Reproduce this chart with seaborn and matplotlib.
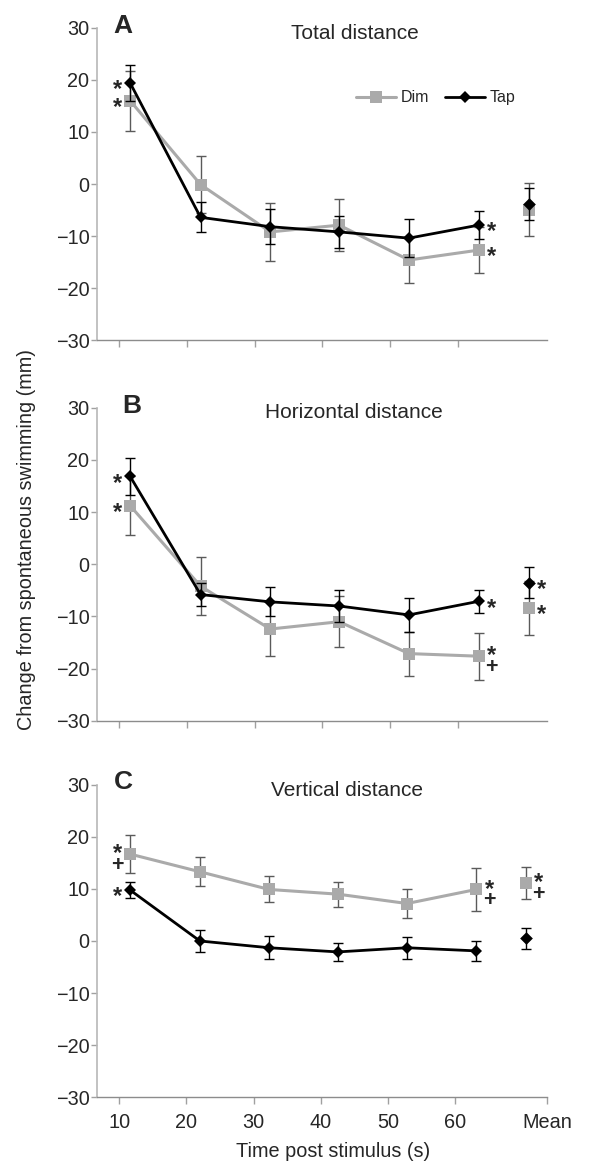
import matplotlib
matplotlib.use("Agg")
import matplotlib.pyplot as plt
import numpy as np
import pandas as pd
import seaborn as sns

# ---------------- data ----------------
time_points = [11.6, 22.0, 32.3, 42.5, 52.8, 63.1]
mean_x = 70.5
x_tick_values = [10, 20, 30, 40, 50, 60]
x_tick_labels = ["10", "20", "30", "40", "50", "60"]
mean_label = "Mean"
y_ticks = [-30, -20, -10, 0, 10, 20, 30]
y_tick_labels = ["\u221230", "\u221220", "\u221210", "0", "10", "20", "30"]
conditions = ["Dim", "Tap"]
panel_letters = ["A", "B", "C"]
panel_titles = ["Total distance", "Horizontal distance", "Vertical distance"]

dim_total = [16.0, -0.1, -9.2, -7.9, -14.6, -12.7]
dim_total_err = [5.8, 5.5, 5.5, 5.0, 4.5, 4.4]
tap_total = [19.4, -6.4, -8.2, -9.2, -10.4, -7.9]
tap_total_err = [3.5, 2.9, 3.4, 3.0, 3.7, 2.7]
dim_total_mean, dim_total_mean_err = -4.9, 5.1
tap_total_mean, tap_total_mean_err = -3.8, 3.1

dim_horiz = [11.2, -4.2, -12.4, -11.0, -17.1, -17.6]
dim_horiz_err = [5.6, 5.6, 5.1, 4.9, 4.2, 4.5]
tap_horiz = [16.8, -5.8, -7.2, -8.0, -9.7, -7.1]
tap_horiz_err = [3.5, 2.2, 2.8, 3.1, 3.2, 2.2]
dim_horiz_mean, dim_horiz_mean_err = -8.4, 5.1
tap_horiz_mean, tap_horiz_mean_err = -3.5, 2.9

dim_vert = [16.7, 13.3, 9.9, 9.0, 7.2, 9.9]
dim_vert_err = [3.7, 2.8, 2.5, 2.4, 2.7, 4.2]
tap_vert = [9.8, 0.0, -1.3, -2.1, -1.3, -1.9]
tap_vert_err = [1.6, 2.1, 2.2, 1.7, 2.1, 1.95]
dim_vert_mean, dim_vert_mean_err = 11.1, 3.1
tap_vert_mean, tap_vert_mean_err = 0.5, 1.95

# significance marks: (point index or "mean", condition, side, symbols)
marks_A = [(0, "Tap", "L", "*"), (0, "Dim", "L", "*"),
           (5, "Tap", "R", "*"), (5, "Dim", "R", "*")]
marks_B = [(0, "Tap", "L", "*"), (0, "Dim", "L", "*"),
           (5, "Tap", "R", "*"), (5, "Dim", "R", "*+"),
           ("mean", "Tap", "R", "*"), ("mean", "Dim", "R", "*")]
marks_C = [(0, "Dim", "L", "*+"), (0, "Tap", "L", "*"),
           (5, "Dim", "R", "*+"), ("mean", "Dim", "R", "*+")]

panels = [
    dict(dim=dim_total, dim_err=dim_total_err, tap=tap_total, tap_err=tap_total_err,
         dim_m=dim_total_mean, dim_me=dim_total_mean_err,
         tap_m=tap_total_mean, tap_me=tap_total_mean_err, marks=marks_A),
    dict(dim=dim_horiz, dim_err=dim_horiz_err, tap=tap_horiz, tap_err=tap_horiz_err,
         dim_m=dim_horiz_mean, dim_me=dim_horiz_mean_err,
         tap_m=tap_horiz_mean, tap_me=tap_horiz_mean_err, marks=marks_B),
    dict(dim=dim_vert, dim_err=dim_vert_err, tap=tap_vert, tap_err=tap_vert_err,
         dim_m=dim_vert_mean, dim_me=dim_vert_mean_err,
         tap_m=tap_vert_mean, tap_me=tap_vert_mean_err, marks=marks_C),
]

# ---------------- style ----------------
sns.set_theme(style="white")
plt.rcParams["font.family"] = ["Liberation Sans", "DejaVu Sans"]

colors = {"Dim": "#aaaaaa", "Tap": "#000000"}
err_colors = {"Dim": "#5a5a5a", "Tap": "#000000"}
markers = {"Dim": "s", "Tap": "D"}

TICK_FS = 14.3
fig = plt.figure(figsize=(5.99, 11.61), dpi=100)
ax_boxes = [
    (0.162, 0.707, 0.751, 0.269),
    (0.162, 0.379, 0.751, 0.270),
    (0.162, 0.055, 0.751, 0.269),
]
letter_pos = [(10.5, 30.3), (11.8, 30.3), (10.6, 30.5)]
title_x = [44.8, 44.7, 43.9]

for i, (box, p) in enumerate(zip(ax_boxes, panels)):
    ax = fig.add_axes(box)
    df = pd.DataFrame({
        "time": time_points * 2,
        "value": p["dim"] + p["tap"],
        "condition": ["Dim"] * len(time_points) + ["Tap"] * len(time_points),
    })
    mdf = pd.DataFrame({"time": [mean_x, mean_x],
                        "value": [p["dim_m"], p["tap_m"]],
                        "condition": conditions})

    # error bars
    for cond, vals, errs, me, mv in [("Dim", p["dim"], p["dim_err"], p["dim_me"], p["dim_m"]),
                                     ("Tap", p["tap"], p["tap_err"], p["tap_me"], p["tap_m"])]:
        ax.errorbar(time_points + [mean_x], vals + [mv], yerr=errs + [me], fmt="none",
                    ecolor=err_colors[cond], elinewidth=1.0, capsize=3.6, capthick=1.0,
                    zorder=1.5 if cond == "Dim" else 2.5)

    for cond, z in [("Dim", 2), ("Tap", 3)]:
        sub = df[df.condition == cond]
        sns.lineplot(data=sub, x="time", y="value", color=colors[cond], marker=markers[cond],
                     markersize=8 if cond == "Dim" else 6.5, markeredgewidth=0,
                     linewidth=2.2 if cond == "Dim" else 2.0, ax=ax, zorder=z,
                     label=cond if i == 0 else None, legend=False)
        msub = mdf[mdf.condition == cond]
        sns.scatterplot(data=msub, x="time", y="value", color=colors[cond],
                        marker=markers[cond], s=64 if cond == "Dim" else 42,
                        linewidth=0, ax=ax, zorder=z, legend=False)

    # annotations
    for idx, cond, side, sym in p["marks"]:
        if idx == "mean":
            x0 = mean_x
            y0 = p["dim_m"] if cond == "Dim" else p["tap_m"]
        else:
            x0 = time_points[idx]
            y0 = (p["dim"] if cond == "Dim" else p["tap"])[idx]
        xs = x0 - 1.9 if side == "L" else x0 + 1.9
        if sym == "*":
            ax.annotate("*", xy=(xs, y0), xytext=(0, -9.6), textcoords="offset points",
                        ha="center", va="baseline", fontsize=17, fontweight="bold")
        else:
            ax.annotate("*", xy=(xs, y0), xytext=(0, -4.4), textcoords="offset points",
                        ha="center", va="baseline", fontsize=17, fontweight="bold")
            ax.annotate("+", xy=(xs, y0), xytext=(0, -12.2), textcoords="offset points",
                        ha="center", va="baseline", fontsize=15.5, fontweight="bold")

    ax.set_xlim(6.7, 73.2)
    ax.set_ylim(-30, 30)
    ax.set_yticks(y_ticks)
    ax.set_yticklabels(y_tick_labels)
    if i == 2:
        ax.set_xticks(x_tick_values + [73.6])
        ax.set_xticklabels(x_tick_labels + [mean_label])
        ax.get_xticklines()[-2].set_visible(False)
    else:
        ax.set_xticks(x_tick_values)
        ax.set_xticklabels([])
    ax.set_xlabel("")
    ax.set_ylabel("")
    for s in ["top", "right"]:
        ax.spines[s].set_visible(False)
    ax.spines["left"].set_color("#b8b8b8")
    ax.spines["left"].set_linewidth(1.2)
    ax.spines["bottom"].set_color("#8c8c8c")
    ax.spines["bottom"].set_linewidth(1.0)
    ax.tick_params(axis="y", direction="out", length=4, width=1, color="#a0a0a0",
                   labelsize=TICK_FS, pad=1.5, left=True)
    ax.tick_params(axis="x", direction="out", length=5, width=1, color="#a0a0a0",
                   labelsize=TICK_FS, pad=6.5, bottom=True)

    ax.text(letter_pos[i][0], letter_pos[i][1], panel_letters[i], ha="center", va="center",
            fontsize=19, fontweight="bold")
    ax.text(title_x[i], 29.0, panel_titles[i], ha="center", va="center", fontsize=15)

    if i == 0:
        h, l = ax.get_legend_handles_labels()
        ax.legend(h, l, ncol=2, frameon=False, loc="center left",
                  bbox_to_anchor=(0.575, 0.776), handlelength=2.5, handletextpad=0.3,
                  columnspacing=1.0, fontsize=11.5, borderaxespad=0, borderpad=0)

fig.text(0.045, 0.535, "Change from spontaneous swimming (mm)", rotation=90,
         ha="center", va="center", fontsize=TICK_FS)
fig.text(0.556, 0.0086, "Time post stimulus (s)", ha="center", va="center", fontsize=TICK_FS)

fig.savefig("out.png", dpi=100)
